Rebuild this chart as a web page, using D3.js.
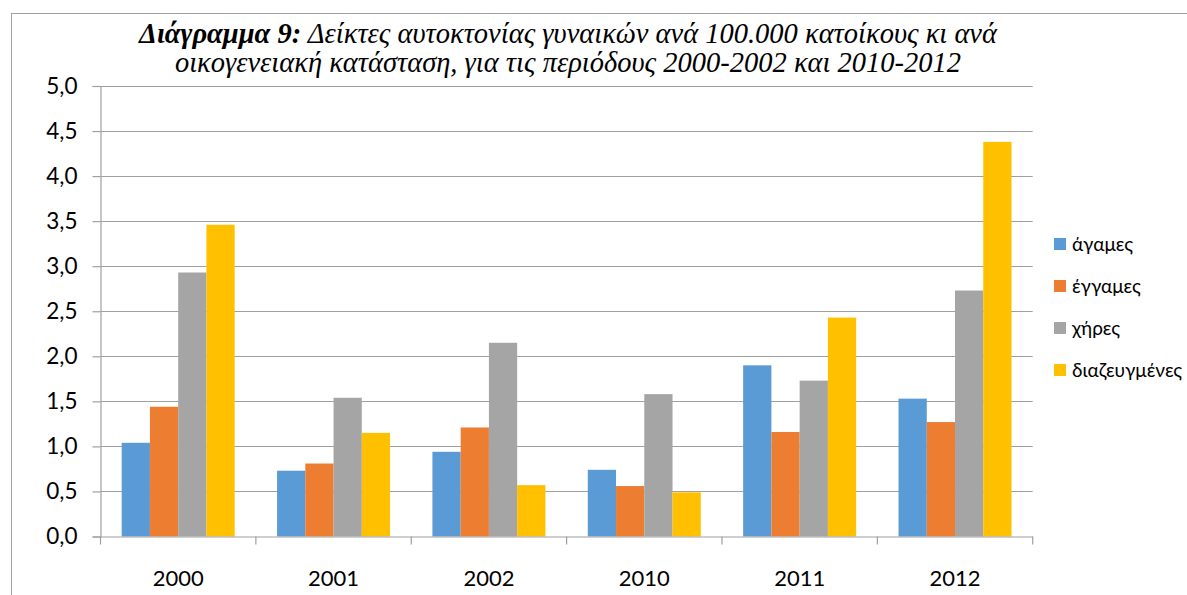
<!DOCTYPE html>
<html>
<head>
<meta charset="utf-8">
<script src="https://cdn.jsdelivr.net/npm/d3@7"></script>
<style>
  html, body { margin: 0; padding: 0; background: #fff; }
  svg { display: block; }
</style>
</head>
<body>
<svg id="chart" width="1187" height="595"></svg>
<script>
// Suicide rates of women per 100,000 residents by marital status
const years = ["2000", "2001", "2002", "2010", "2011", "2012"];
const seriesNames = ["άγαμες", "έγγαμες", "χήρες", "διαζευγμένες"];
const agames       = [1.04, 0.73, 0.94, 0.74, 1.90, 1.53];
const eggames      = [1.44, 0.81, 1.21, 0.56, 1.16, 1.27];
const xires        = [2.93, 1.54, 2.15, 1.58, 1.73, 2.73];
const diazeugmenes = [3.46, 1.15, 0.57, 0.49, 2.43, 4.38];
const yTicks = [0, 0.5, 1, 1.5, 2, 2.5, 3, 3.5, 4, 4.5, 5];
const colors = ["#5B9BD5", "#ED7D31", "#A5A5A5", "#FFC000"];

const seriesValues = [agames, eggames, xires, diazeugmenes];
const svg = d3.select("#chart");

// outer frame
svg.append("rect")
  .attr("x", 11.5).attr("y", 13.5)
  .attr("width", 1300).attr("height", 700)
  .attr("fill", "none").attr("stroke", "#a0a0a0").attr("stroke-width", 1);

const plot = { left: 100.5, right: 1032.7, top: 86, bottom: 536.5 };

const x0 = d3.scaleBand().domain(years).range([plot.left, plot.right]).padding(0);
const barW = x0.bandwidth() / 5.5;
const x1 = d3.scaleBand().domain(seriesNames)
  .range([barW * 0.75, barW * 0.75 + barW * 4]).padding(0);
const y = d3.scaleLinear().domain([0, 5]).range([plot.bottom, plot.top]);

const fmt = v => d3.format(".1f")(v).replace(".", ",");

// gridlines
svg.append("g")
  .selectAll("line").data(yTicks.filter(t => t > 0)).join("line")
  .attr("x1", plot.left).attr("x2", plot.right)
  .attr("y1", d => Math.round(y(d)) + 0.5).attr("y2", d => Math.round(y(d)) + 0.5)
  .attr("stroke", "#a0a0a0").attr("stroke-width", 1.2);

// bars
const groups = svg.append("g").selectAll("g")
  .data(years).join("g")
  .attr("transform", d => `translate(${x0(d)},0)`);

groups.selectAll("rect")
  .data((d, i) => seriesNames.map((s, k) => ({ s, k, v: seriesValues[k][i] })))
  .join("rect")
  .attr("x", d => x1(d.s))
  .attr("width", x1.bandwidth())
  .attr("y", d => y(d.v))
  .attr("height", d => y(0) - y(d.v))
  .attr("fill", d => colors[d.k]);

// y axis
const yAxis = d3.axisLeft(y).tickValues(yTicks).tickFormat(fmt).tickSize(8).tickPadding(15);
const gy = svg.append("g").attr("transform", `translate(${plot.left},0)`).call(yAxis);
gy.select(".domain").attr("stroke", "#a0a0a0").attr("stroke-width", 1.2);
gy.selectAll(".tick line").attr("stroke", "#a0a0a0").attr("stroke-width", 1.2);
gy.selectAll(".tick text")
  .attr("font-family", "Lato, 'Open Sans', sans-serif")
  .attr("font-size", 22.5).attr("fill", "#000");

// x axis
const xAxis = d3.axisBottom(x0).tickSize(0).tickPadding(34);
const gx = svg.append("g").attr("transform", `translate(0,${plot.bottom})`).call(xAxis);
gx.select(".domain").attr("stroke", "#a0a0a0").attr("stroke-width", 1.2);
gx.selectAll(".tick text")
  .attr("font-family", "Lato, 'Open Sans', sans-serif")
  .attr("font-size", 22).attr("fill", "#000");
// category separator ticks
const bounds = years.map(d => x0(d)).concat([plot.right]);
svg.append("g").selectAll("line").data(bounds).join("line")
  .attr("x1", d => d).attr("x2", d => d)
  .attr("y1", plot.bottom).attr("y2", plot.bottom + 8)
  .attr("stroke", "#a0a0a0").attr("stroke-width", 1.2);

// title, two lines
const titleFont = { family: "'Liberation Serif', 'Times New Roman', serif", size: 28.5 };
const t1 = svg.append("text")
  .attr("x", 568).attr("y", 43)
  .attr("text-anchor", "middle")
  .attr("font-family", titleFont.family)
  .attr("font-style", "italic")
  .attr("font-size", titleFont.size)
  .attr("fill", "#000");
t1.append("tspan").attr("font-weight", "bold").text("Διάγραμμα 9:");
t1.append("tspan").text(" Δείκτες αυτοκτονίας γυναικών ανά 100.000 κατοίκους κι ανά");
svg.append("text")
  .attr("x", 568).attr("y", 72)
  .attr("text-anchor", "middle")
  .attr("font-family", titleFont.family)
  .attr("font-style", "italic")
  .attr("font-size", titleFont.size)
  .attr("fill", "#000")
  .text("οικογενειακή κατάσταση, για τις περιόδους 2000-2002 και 2010-2012");

// legend
const legend = svg.append("g").attr("transform", "translate(1054,0)");
const items = legend.selectAll("g").data(seriesNames).join("g")
  .attr("transform", (d, i) => `translate(0,${244 + i * 42})`);
items.append("rect").attr("x", 0).attr("y", -6).attr("width", 12).attr("height", 12)
  .attr("fill", (d, i) => colors[i]);
items.append("text").attr("x", 18).attr("y", 0).attr("dy", "0.35em")
  .attr("font-family", "Lato, 'Open Sans', sans-serif")
  .attr("font-size", 19).attr("fill", "#000")
  .text(d => d);
</script>
</body>
</html>
